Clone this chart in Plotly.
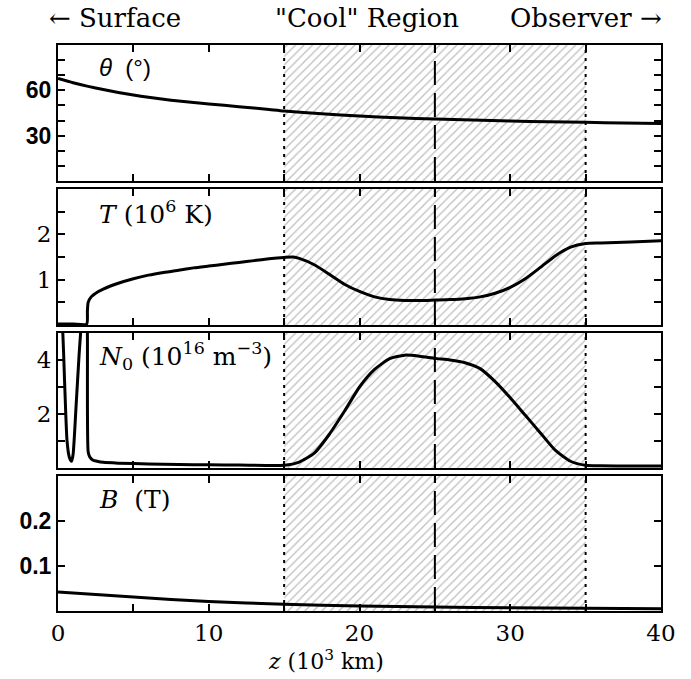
import plotly.graph_objects as go

# ---------------- data ----------------
theta_z = [0, 1, 2, 3, 4, 5, 6, 7, 8, 9, 10, 12, 14, 15, 17.5, 20, 22.5, 25, 27.5, 30, 32.5, 35, 37.5, 40]
theta_v = [67.8, 65.0, 62.6, 60.5, 58.6, 56.9, 55.4, 54.1, 52.9, 51.9, 51.0, 49.2, 47.3, 46.3, 44.5, 43.0, 41.9, 41.0, 40.3, 39.7, 39.2, 38.8, 38.4, 38.1]

T_z = [0, 1.0, 1.9, 1.95, 2.0, 2.2, 2.5, 3, 4, 5, 6, 7, 8, 9, 10, 11, 12, 13, 14, 15, 15.6, 16, 17, 18, 19, 20, 21, 22, 23, 24, 25, 26, 27, 28, 29, 30, 31, 32, 33, 34, 35, 36, 38, 40]
T_v = [0.02, 0.02, 0.02, 0.3, 0.5, 0.62, 0.7, 0.79, 0.92, 1.02, 1.1, 1.16, 1.21, 1.26, 1.3, 1.34, 1.38, 1.42, 1.46, 1.49, 1.5, 1.47, 1.33, 1.12, 0.9, 0.74, 0.62, 0.56, 0.54, 0.54, 0.55, 0.56, 0.58, 0.62, 0.7, 0.83, 1.02, 1.27, 1.53, 1.72, 1.8, 1.81, 1.83, 1.86]

N_z = [0, 0.3, 0.45, 0.6, 0.75, 0.9, 1.0, 1.2, 1.4, 1.5, 1.6, 1.9, 1.95, 2.0, 2.1, 2.3, 2.6, 3, 4, 6, 8, 10, 12, 15, 16, 17, 18, 19, 20, 21, 22, 23, 24, 25, 26, 27, 28, 29, 30, 31, 32, 33, 34, 35, 36, 38, 40]
N_v = [7.0, 5.2, 3.0, 1.0, 0.4, 0.25, 0.5, 2.3, 4.2, 5.0, 6.0, 6.0, 5.0, 0.6, 0.42, 0.3, 0.25, 0.21, 0.18, 0.15, 0.13, 0.12, 0.11, 0.1, 0.22, 0.55, 1.25, 2.1, 3.0, 3.65, 4.05, 4.18, 4.14, 4.06, 4.0, 3.9, 3.68, 3.2, 2.6, 1.95, 1.3, 0.65, 0.25, 0.1, 0.08, 0.07, 0.07]

B_z = [0, 5, 10, 15, 20, 25, 30, 35, 40]
B_v = [0.042, 0.031, 0.021, 0.015, 0.011, 0.009, 0.007, 0.006, 0.005]

region_start, region_mid, region_end = 15, 25, 35
x_ticks = [0, 5, 10, 15, 20, 25, 30, 35, 40]
x_labels = ["0", "", "10", "", "20", "", "30", "", "40"]

panels = [
    dict(z=theta_z, v=theta_v, yr=[0, 90], tv=[10, 20, 30, 40, 50, 60, 70, 80],
         tt=["", "", "30", "", "", "60", "", ""], tfont="Liberation Sans", tbold=True,
         label="<i>θ</i>  (°)", lfont="Liberation Sans", lsize=24),
    dict(z=T_z, v=T_v, yr=[0, 3], tv=[0.5, 1, 1.5, 2, 2.5],
         tt=["", "1", "", "2", ""], tfont="DejaVu Serif", tbold=False,
         label="<i>T</i> (10<sup>6</sup> K)", lfont="DejaVu Serif", lsize=25),
    dict(z=N_z, v=N_v, yr=[0, 5], tv=[1, 2, 3, 4],
         tt=["", "2", "", "4"], tfont="DejaVu Serif", tbold=False,
         label="<i>N</i><sub>0</sub> (10<sup>16</sup> m<sup>−3</sup>)", lfont="DejaVu Serif", lsize=25),
    dict(z=B_z, v=B_v, yr=[0, 0.3], tv=[0.1, 0.2],
         tt=["0.1", "0.2"], tfont="Liberation Sans", tbold=True,
         label="<i>B</i>  (T)", lfont="DejaVu Serif", lsize=25),
]

W, H = 691, 679
x0px, x1px = 58, 661
tops = [45, 189, 333, 476]
bots = [181, 325, 468, 611]

fig = go.Figure()
layout = dict(width=W, height=H, margin=dict(l=0, r=0, t=0, b=0, autoexpand=False),
              paper_bgcolor="white", plot_bgcolor="white", showlegend=False)

for i, p in enumerate(panels):
    n = "" if i == 0 else str(i + 1)
    xa, ya = "x" + n, "y" + n
    # hatched region
    fig.add_trace(go.Scatter(
        x=[region_start, region_end, region_end, region_start, region_start],
        y=[p["yr"][0], p["yr"][0], p["yr"][1], p["yr"][1], p["yr"][0]],
        fill="toself", mode="none", fillcolor="rgba(0,0,0,0)",
        fillpattern=dict(shape="/", fgcolor="#7a7a7a", bgcolor="white", size=6, solidity=0.2),
        xaxis=xa, yaxis=ya, hoverinfo="skip"))
    fig.add_trace(go.Scatter(x=p["z"], y=p["v"], mode="lines",
                             line=dict(color="black", width=3, shape="spline", smoothing=0.6),
                             xaxis=xa, yaxis=ya))
    dom_y = [1 - bots[i] / H, 1 - tops[i] / H]
    layout["xaxis" + n] = dict(
        domain=[x0px / W, x1px / W], range=[0, 40], anchor=ya, automargin=False,
        tickmode="array", tickvals=x_ticks, ticktext=x_labels,
        showticklabels=(i == 3), ticks="inside", ticklen=7, tickwidth=1.5, tickcolor="black",
        showline=True, linecolor="black", linewidth=2, mirror="allticks",
        showgrid=False, zeroline=False,
        tickfont=dict(family="DejaVu Serif", size=23, color="black"),
        matches="x" if i > 0 else None,
    )
    tt = [("<b>%s</b>" % t if (p["tbold"] and t) else t) for t in p["tt"]]
    layout["yaxis" + n] = dict(
        domain=dom_y, range=p["yr"], anchor=xa, automargin=False,
        tickmode="array", tickvals=p["tv"], ticktext=tt,
        ticks="inside", ticklen=7, tickwidth=1.5, tickcolor="black",
        showline=True, linecolor="black", linewidth=2, mirror="allticks",
        showgrid=False, zeroline=False,
        tickfont=dict(family=p["tfont"], size=23, color="black"),
    )
    # vertical region lines
    for xv, dash in [(region_start, "3px,5px"), (region_end, "3px,5px"), (region_mid, "24px,8px")]:
        fig.add_shape(type="line", xref=xa, yref=ya + " domain", x0=xv, x1=xv, y0=0, y1=1,
                      line=dict(color="black", width=2, dash=dash))
    fig.add_annotation(text=p["label"], xref="paper", yref="paper",
                       x=97 / W, y=1 - (tops[i] + 23) / H, xanchor="left", yanchor="middle",
                       showarrow=False, font=dict(family=p["lfont"], size=p["lsize"], color="black"))

fig.update_layout(**layout)

# x-axis title as an annotation
fig.add_annotation(text="<i>z</i> (10<sup>3</sup> km)", xref="paper", yref="paper",
                   x=326 / W, y=1 - 676 / H, xanchor="center", yanchor="bottom", showarrow=False,
                   font=dict(family="DejaVu Serif", size=22, color="black"))

top_texts = [("← Surface", 47, "left"), ("\"Cool\" Region", 367, "center"), ("Observer →", 664, "right")]
for txt, xp, anc in top_texts:
    fig.add_annotation(text=txt, xref="paper", yref="paper", x=xp / W, y=1 - 18 / H,
                       xanchor=anc, yanchor="middle", showarrow=False,
                       font=dict(family="DejaVu Serif", size=26, color="black"))

fig.write_html("out.html", config={"displayModeBar": False},
               post_script="document.body.style.margin='0';document.body.style.overflow='hidden';")
